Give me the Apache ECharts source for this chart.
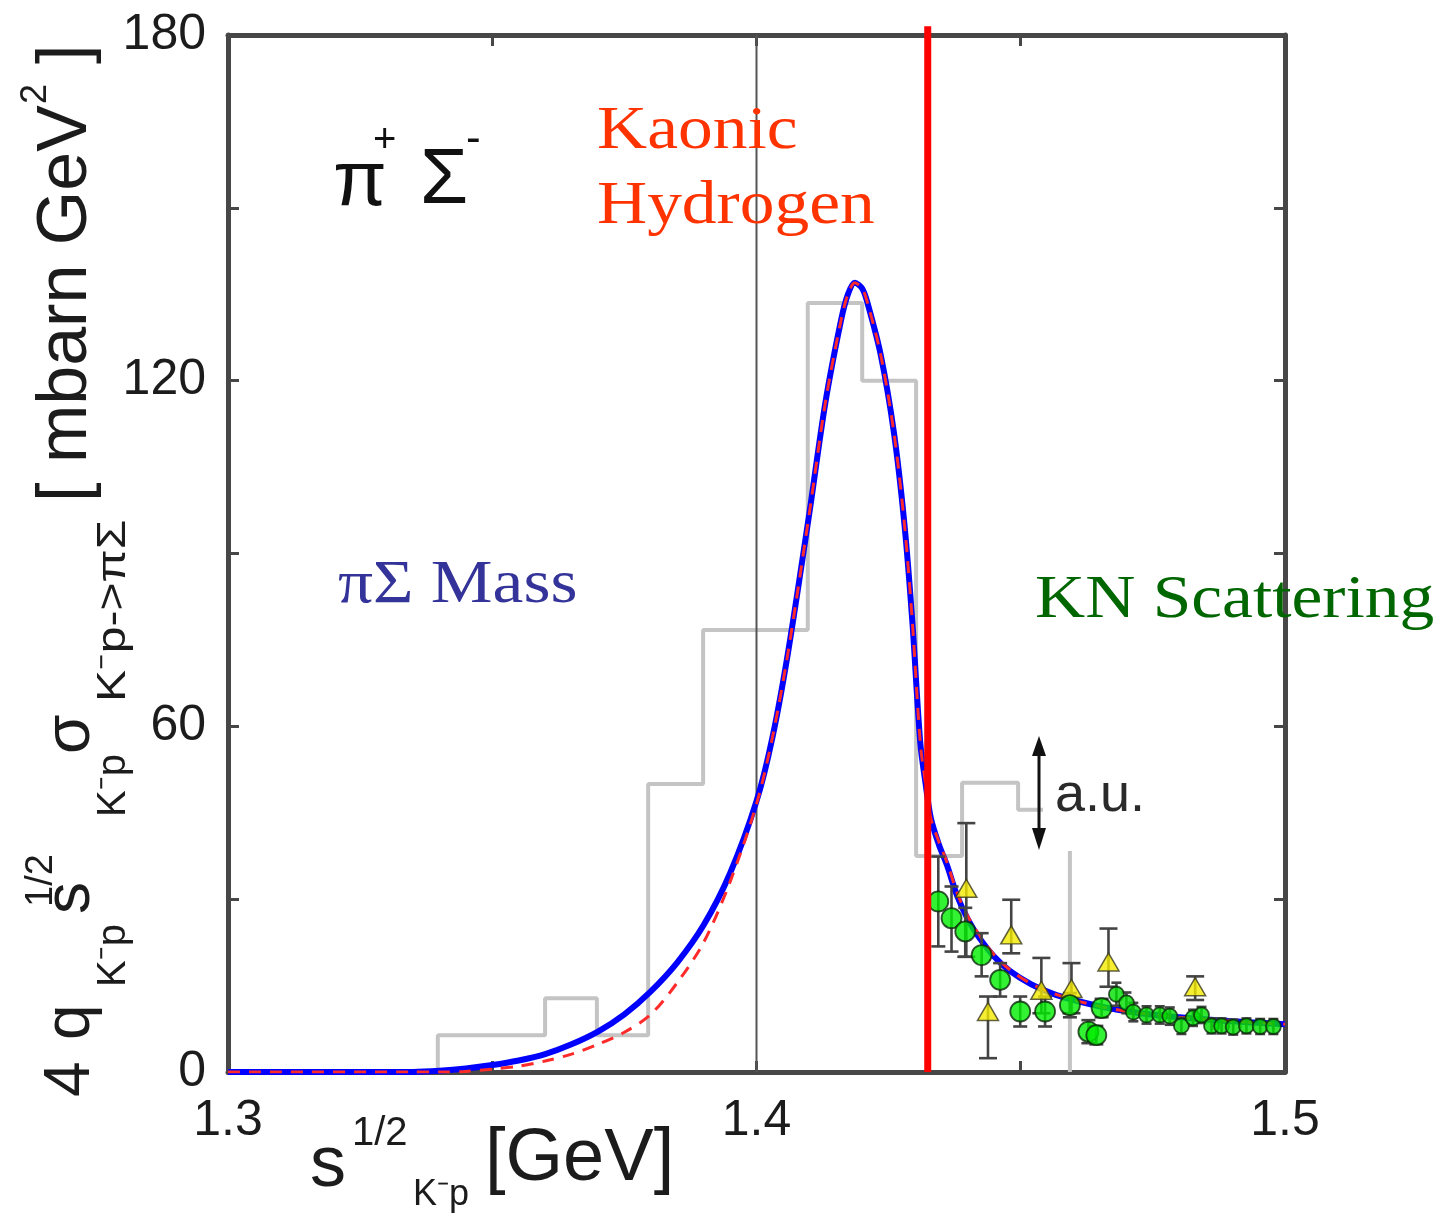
<!DOCTYPE html>
<html>
<head>
<meta charset="utf-8">
<script src="https://cdn.jsdelivr.net/npm/echarts@6/dist/echarts.min.js"></script>
<style>
  html, body { margin: 0; padding: 0; background: #ffffff; }
  #chart { width: 1443px; height: 1219px; }
</style>
</head>
<body>
<div id="chart"></div>
<script>
// ---- axis ranges and ticks ----
const xMin = 1.3, xMax = 1.5, xStep = 0.05;
const yMin = 0, yMax = 180, yStep = 30;

// ---- K-p threshold and reference energy ----
const thresholdX = 1.4324;
const refLineX = 1.4;

// ---- pi-Sigma mass histogram (bin edges and heights) ----
const histEdges = [1.3397, 1.3600, 1.3698, 1.3795, 1.3899, 1.4097, 1.4200, 1.4302, 1.4389, 1.4495, 1.4593];
const histHeights = [6.4, 12.8, 6.4, 50.0, 76.7, 133.5, 120.0, 37.5, 50.2, 45.5];

// ---- model curves ----
const curveX = [1.300, 1.335, 1.340, 1.345, 1.350, 1.355, 1.360, 1.365, 1.370, 1.375,
                1.380, 1.385, 1.390, 1.395, 1.400, 1.403, 1.406, 1.410, 1.413, 1.416,
                1.4173, 1.4186, 1.4200, 1.421, 1.4235, 1.426, 1.428, 1.4295, 1.431, 1.432,
                1.433, 1.4345, 1.436, 1.438, 1.440, 1.442, 1.445, 1.448, 1.452, 1.456,
                1.460, 1.466, 1.472, 1.480, 1.490, 1.500];
const blueY = [0, 0, 0.2, 0.6, 1.2, 2.0, 3.1, 4.8, 7.0, 10.0,
               14.0, 19.0, 25.5, 34.5, 47, 58, 73, 97, 116, 130.5,
               135, 137, 136, 133.5, 124.5, 111, 95, 78, 57, 50,
               44, 39.5, 36, 30.5, 26.5, 23.5, 20, 17.5, 15.2, 13.6,
               12.5, 11.2, 10.3, 9.5, 8.8, 8.3];
const redY = [0, 0, 0, 0.1, 0.5, 1.0, 1.9, 3.1, 4.8, 6.9,
              10.0, 15.5, 22.5, 33, 46.5, 58, 73, 97, 116, 130.5,
              135, 137, 136, 133.5, 124.5, 111, 95, 78, 57, 50,
              44, 40, 36.5, 31, 27, 24, 20.3, 17.7, 15.3, 13.7,
              12.5, 11.2, 10.3, 9.5, 8.8, 8.3];

// ---- K-p scattering data: green circles ----
const greenX  = [1.4344, 1.4369, 1.4395, 1.4426, 1.4461, 1.4499, 1.4546, 1.4593, 1.4628, 1.4643, 1.4653];
const greenY  = [29.6, 26.7, 24.4, 20.3, 16.0, 10.5, 10.5, 11.6, 7.0, 6.4, 11.1];
const greenLo = [21.8, 20.9, 20.0, 16.6, 13.1, 7.9, 7.9, 9.5, 5.0, 4.8, 9.5];
const greenHi = [37.4, 32.2, 28.5, 24.1, 18.9, 13.1, 13.1, 13.7, 9.0, 8.0, 12.7];

// dense high-energy green points
const denseX  = [1.4681, 1.4700, 1.4713, 1.4738, 1.4763, 1.4782, 1.4804, 1.4826, 1.4842, 1.4861, 1.4880, 1.4902, 1.4927, 1.4953, 1.4978];
const denseY  = [13.5, 12.0, 10.4, 9.9, 9.9, 9.7, 8.0, 9.4, 9.9, 8.0, 8.0, 7.8, 8.0, 7.9, 7.9];
const denseLo = [11.5, 10.2, 8.8, 8.4, 8.4, 8.2, 6.6, 8.0, 8.5, 6.7, 6.7, 6.5, 6.7, 6.6, 6.6];
const denseHi = [15.5, 13.8, 12.0, 11.4, 11.4, 11.2, 9.4, 10.8, 11.3, 9.3, 9.3, 9.1, 9.3, 9.2, 9.2];

// ---- yellow triangles ----
const triX  = [1.4397, 1.4438, 1.4482, 1.4539, 1.4596, 1.4666, 1.4830];
const triY  = [31.9, 10.5, 23.8, 14.2, 14.5, 19.1, 14.8];
const triLo = [20.0, 2.4, 20.6, 10.2, 10.2, 14.8, 12.5];
const triHi = [43.2, 13.1, 29.9, 19.8, 18.9, 24.9, 16.6];

// ---- build series data ----
function zip(xs, ys) { return xs.map((x, i) => [x, ys[i]]); }
function zip3(xs, a, b) { return xs.map((x, i) => [x, a[i], b[i]]); }

const histPath = [[histEdges[0], 0]];
histHeights.forEach((h, i) => {
  histPath.push([histEdges[i], h]);
  histPath.push([histEdges[i + 1], h]);
});
histPath.push([histEdges[histEdges.length - 1], 0]);

function errorBars(capHalf) {
  return function (params, api) {
    const x = api.value(0), lo = api.value(1), hi = api.value(2);
    const a = api.coord([x, lo]), b = api.coord([x, hi]);
    const st = { stroke: '#444444', lineWidth: 2.6 };
    return {
      type: 'group',
      children: [
        { type: 'line', shape: { x1: a[0], y1: a[1], x2: b[0], y2: b[1] }, style: st },
        { type: 'line', shape: { x1: a[0] - capHalf, y1: a[1], x2: a[0] + capHalf, y2: a[1] }, style: st },
        { type: 'line', shape: { x1: b[0] - capHalf, y1: b[1], x2: b[0] + capHalf, y2: b[1] }, style: st }
      ]
    };
  };
}

const frameColor = '#474747';
const sansFont = "'Liberation Sans', Arial, Helvetica, sans-serif";
const serifFont = "'Liberation Serif', 'Times New Roman', serif";

function isMajorX(v) { return Math.abs(v * 10 - Math.round(v * 10)) < 1e-6; }
function isMajorY(v) { return Math.abs(v / 60 - Math.round(v / 60)) < 1e-6; }

function xAxisDef(pos, showLabels) {
  return {
    type: 'value', position: pos, min: xMin, max: xMax, interval: xStep,
    axisLine: { show: true, onZero: false, lineStyle: { color: frameColor, width: 5 } },
    axisTick: { show: true, inside: true, length: 11, lineStyle: { color: frameColor, width: 3 } },
    axisLabel: {
      show: showLabels, margin: 24, fontSize: 50, color: '#1c1c1c', fontFamily: sansFont,
      formatter: v => isMajorX(v) ? v.toFixed(1) : ''
    },
    splitLine: { show: false }
  };
}
function yAxisDef(pos, showLabels) {
  return {
    type: 'value', position: pos, min: yMin, max: yMax, interval: yStep,
    axisLine: { show: true, onZero: false, lineStyle: { color: frameColor, width: 5 } },
    axisTick: { show: true, inside: true, length: 11, lineStyle: { color: frameColor, width: 3 } },
    axisLabel: {
      show: showLabels, margin: 22, fontSize: 50, color: '#1c1c1c', fontFamily: sansFont,
      formatter: v => isMajorY(v) ? String(v) : ''
    },
    splitLine: { show: false }
  };
}

// rotated y-axis title pieces: [text, x, y, fontSize, scaleX]
const yTitleParts = [
  ['4', 71, 1097, 64, 1],
  ['q', 71, 1040, 64, 1],
  ['K\u207Bp', 114, 987, 40, 1],
  ['s', 71, 914, 64, 1],
  ['1/2', 42, 907, 38, 1],
  ['K\u207Bp', 114, 817, 40, 1],
  ['\u03C3', 71, 754, 64, 1],
  ['K\u207Bp->\u03C0\u03A3', 114, 702, 40, 1.2],
  ['[ mbarn GeV', 67, 502, 70, 1],
  ['2', 36, 104, 36, 1],
  [']', 67, 64, 70, 1]
];

// x-axis title pieces: [text, x, y, fontSize]
const xTitleParts = [
  ['s', 310, 1166, 72],
  ['1/2', 352, 1134, 40],
  ['K\u207Bp', 413, 1195, 36],
  ['[GeV]', 485, 1160, 74]
];

const graphics = [];
yTitleParts.forEach(p => {
  graphics.push({
    type: 'text', x: p[1], y: p[2], rotation: Math.PI / 2, scaleX: p[4], z: 100,
    style: { text: p[0], fontSize: p[3], fontFamily: sansFont, fill: '#1c1c1c', align: 'left', verticalAlign: 'middle' }
  });
});
xTitleParts.forEach(p => {
  graphics.push({
    type: 'text', x: p[1], y: p[2], z: 100,
    style: { text: p[0], fontSize: p[3], fontFamily: sansFont, fill: '#1c1c1c', align: 'left', verticalAlign: 'middle' }
  });
});

// channel label pi+ Sigma-
[['\u03C0', 333, 183, 78], ['+', 373, 141, 40], ['\u03A3', 420, 181, 78], ['-', 466, 140, 44]].forEach(p => {
  graphics.push({
    type: 'text', x: p[1], y: p[2], z: 100,
    style: { text: p[0], fontSize: p[3], fontFamily: sansFont, fill: '#111111', align: 'left', verticalAlign: 'middle' }
  });
});

// coloured annotations
[['Kaonic', 597, 132, '#ff3300'], ['Hydrogen', 597, 207, '#ff3300'],
 ['\u03C0\u03A3 Mass', 338, 586, '#333399'], ['KN Scattering', 1035, 601, '#006600']].forEach(p => {
  graphics.push({
    type: 'text', x: p[1], y: p[2], scaleX: 1.12, z: 100,
    style: { text: p[0], fontSize: 62, fontFamily: serifFont, fill: p[3], align: 'left', verticalAlign: 'middle' }
  });
});

// arbitrary-units marker: white backing, double arrow and label
graphics.push({ type: 'rect', shape: { x: 1043, y: 760, width: 60, height: 91 }, style: { fill: '#ffffff' }, z: 60 });
graphics.push({ type: 'line', shape: { x1: 1039, y1: 750, x2: 1039, y2: 836 }, style: { stroke: '#111111', lineWidth: 3 }, z: 90 });
graphics.push({ type: 'polygon', shape: { points: [[1039, 736], [1032, 756], [1046, 756]] }, style: { fill: '#111111' }, z: 90 });
graphics.push({ type: 'polygon', shape: { points: [[1039, 850], [1032, 828], [1046, 828]] }, style: { fill: '#111111' }, z: 90 });
graphics.push({
  type: 'text', x: 1055, y: 796, z: 100,
  style: { text: 'a.u.', fontSize: 54, fontFamily: sansFont, fill: '#2a2a2a', align: 'left', verticalAlign: 'middle' }
});

const option = {
  backgroundColor: '#ffffff',
  animation: false,
  grid: { left: 228, right: 158, top: 35, bottom: 147, containLabel: false },
  xAxis: [xAxisDef('bottom', true), xAxisDef('top', false)],
  yAxis: [yAxisDef('left', true), yAxisDef('right', false)],
  series: [
    {
      name: 'histogram', type: 'line', data: histPath, symbol: 'none', z: 1,
      lineStyle: { color: '#c4c4c4', width: 4 }
    },
    {
      name: 'reference', type: 'line', data: [[refLineX, yMin], [refLineX, yMax]], symbol: 'none', z: 1,
      lineStyle: { color: '#555555', width: 2 }
    },
    {
      name: 'model', type: 'line', data: zip(curveX, blueY), symbol: 'none', smooth: 0.3, z: 3,
      lineStyle: { color: '#0000ff', width: 6 }
    },
    {
      name: 'model2', type: 'line', data: zip(curveX, redY), symbol: 'none', smooth: 0.3, z: 4,
      lineStyle: { color: '#ff2a2a', width: 3, type: [12, 9] }
    },
    {
      name: 'greenErr', type: 'custom', renderItem: errorBars(7), data: zip3(greenX, greenLo, greenHi),
      encode: { x: 0, y: [1, 2] }, z: 5
    },
    {
      name: 'denseErr', type: 'custom', renderItem: errorBars(5), data: zip3(denseX, denseLo, denseHi),
      encode: { x: 0, y: [1, 2] }, z: 5
    },
    {
      name: 'triErr', type: 'custom', renderItem: errorBars(9), data: zip3(triX, triLo, triHi),
      encode: { x: 0, y: [1, 2] }, z: 5
    },
    {
      name: 'triangles', type: 'scatter', data: zip(triX, triY), symbol: 'triangle', symbolSize: [21, 18], z: 6,
      itemStyle: { color: '#f4ea00', borderColor: '#3a3a20', borderWidth: 1.5 }
    },
    {
      name: 'green', type: 'scatter', data: zip(greenX, greenY), symbol: 'circle', symbolSize: 20, z: 7,
      itemStyle: { color: '#00ee00', borderColor: '#0a2a0a', borderWidth: 1.8 }
    },
    {
      name: 'dense', type: 'scatter', data: zip(denseX, denseY), symbol: 'circle', symbolSize: 15, z: 7,
      itemStyle: { color: '#00e000', borderColor: '#0a2a0a', borderWidth: 1.8 }
    },
    {
      name: 'threshold', type: 'line', data: [[thresholdX, yMin], [thresholdX, yMax + 1.5]], symbol: 'none',
      clip: false, z: 10,
      lineStyle: { color: '#ff0000', width: 7 }
    }
  ],
  graphic: graphics
};

const chart = echarts.init(document.getElementById('chart'), null, { renderer: 'canvas' });
chart.setOption(option);
</script>
</body>
</html>
